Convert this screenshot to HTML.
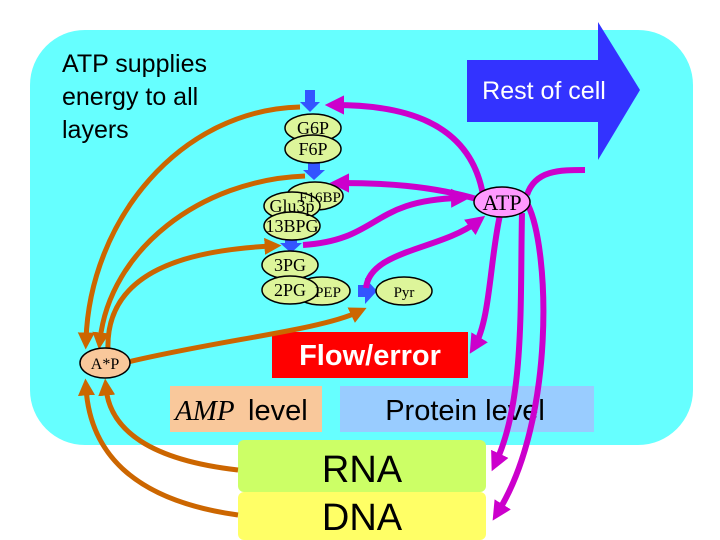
<!DOCTYPE html>
<html><head><meta charset="utf-8"><style>
html,body{margin:0;padding:0;background:#fff;width:720px;height:540px;overflow:hidden}
svg{display:block}
text{font-family:"Liberation Serif",serif}
.s{font-family:"Liberation Sans",sans-serif}
</style></head><body>
<svg width="720" height="540" viewBox="0 0 720 540" xmlns="http://www.w3.org/2000/svg">
<defs>
<marker id="mo" markerWidth="3.4" markerHeight="3.4" refX="1.5" refY="1.7" orient="auto" markerUnits="strokeWidth"><path d="M0,0 L3.4,1.7 L0,3.4 z" fill="#cc6600"/></marker>
<marker id="mm" markerWidth="3.2" markerHeight="3.2" refX="1.5" refY="1.6" orient="auto" markerUnits="strokeWidth"><path d="M0,0 L3.2,1.6 L0,3.2 z" fill="#cc00cc"/></marker>
</defs>
<rect x="30" y="30" width="663" height="415" rx="55" fill="#66ffff"/>
<path d="M467,60 H598 V22 L640,90 L598,160 V122 H467 Z" fill="#3333ff"/>
<text x="544" y="99" class="s" font-size="25" fill="#fff" text-anchor="middle">Rest of cell</text>
<text class="s" font-size="25" fill="#000"><tspan x="62" y="72">ATP supplies</tspan><tspan x="62" y="105">energy to all</tspan><tspan x="62" y="138">layers</tspan></text>
<rect x="272" y="332" width="196" height="46" fill="#ff0000"/>
<text x="370" y="365" class="s" font-size="29" font-weight="bold" fill="#fff" text-anchor="middle">Flow/error</text>
<rect x="170" y="386" width="152" height="46" fill="#f9c89b"/>
<text x="175" y="420" font-size="29" font-style="italic">AMP</text><text x="248" y="420" class="s" font-size="29">level</text>
<rect x="340" y="386" width="254" height="46" fill="#99ccff"/>
<text x="465" y="420" class="s" font-size="29" text-anchor="middle">Protein level</text>
<rect x="238" y="440" width="248" height="52" rx="6" fill="#ccff66"/>
<rect x="238" y="492" width="248" height="48" rx="6" fill="#ffff66"/>
<text x="362" y="482" class="s" font-size="38" text-anchor="middle">RNA</text>
<text x="362" y="530" class="s" font-size="38" text-anchor="middle">DNA</text>
<g fill="#3355ff">
<path d="M305,90 h10 v12 h5 l-10,10 l-10,-10 h5z"/>
<path d="M308,163 h12 v7 h5 l-11,10 l-11,-10 h5z"/>
<path d="M285,240 h12 v3 h5 l-11,10 l-11,-10 h5z"/>
<path d="M358,285 h7 v-7 l12,13 l-12,13 v-7 h-7z"/>
</g>
<g fill="none" stroke="#cc6600" stroke-width="5">
<path d="M300,107 C180,110 90,220 86,340" marker-end="url(#mo)"/>
<path d="M305,176 C200,180 110,250 100,340" marker-end="url(#mo)"/>
<path d="M108,350 C105,270 190,250 272,246" marker-end="url(#mo)"/>
<path d="M128,362 C220,340 320,330 358,312" marker-end="url(#mo)"/>
<path d="M238,470 C150,460 110,430 106,388" marker-end="url(#mo)"/>
<path d="M238,515 C130,500 90,450 86,388" marker-end="url(#mo)"/>
</g>
<g fill="none" stroke="#cc00cc" stroke-width="6">
<path d="M483,195 C470,120 400,105 335,105" marker-end="url(#mm)"/>
<path d="M480,200 C430,185 380,183 340,183" marker-end="url(#mm)"/>
<path d="M303,245 C380,240 370,200 460,198" marker-end="url(#mm)"/>
<path d="M366,288 C370,250 440,250 477,222" marker-end="url(#mm)"/>
<path d="M500,215 C490,260 490,320 475,345" marker-end="url(#mm)"/>
<path d="M522,213 C520,300 525,400 496,462" marker-end="url(#mm)"/>
<path d="M527,195 C535,170 560,170 585,170"/>
<path d="M528,205 C550,250 555,420 498,512" marker-end="url(#mm)"/>
</g>
<g stroke="#000" stroke-width="1.5" fill="#ddf59a">
<ellipse cx="315" cy="196" rx="28" ry="14"/>
<ellipse cx="313" cy="128" rx="28" ry="14"/>
<ellipse cx="313" cy="149" rx="28" ry="14"/>
<ellipse cx="292" cy="206" rx="28" ry="14"/>
<ellipse cx="292" cy="226" rx="28" ry="14"/>
<ellipse cx="322" cy="291" rx="28" ry="14"/>
<ellipse cx="290" cy="265" rx="28" ry="14"/>
<ellipse cx="290" cy="290" rx="28" ry="14"/>
<ellipse cx="404" cy="291" rx="28" ry="14"/>
</g>
<g font-size="18" text-anchor="middle">
<text x="313" y="134">G6P</text><text x="313" y="155">F6P</text>
<text x="320" y="202" font-size="15">F16BP</text>
<text x="292" y="212">Glu3p</text><text x="292" y="232">13BPG</text>
<text x="328" y="297" font-size="15">PEP</text>
<text x="290" y="271">3PG</text><text x="290" y="296">2PG</text>
<text x="404" y="297" font-size="15">Pyr</text>
</g>
<ellipse cx="502" cy="202" rx="28" ry="15" fill="#ff99ff" stroke="#000" stroke-width="1.5"/>
<text x="502" y="210" font-size="22" text-anchor="middle">ATP</text>
<ellipse cx="105" cy="363" rx="25" ry="15" fill="#f9c89b" stroke="#000" stroke-width="1.5"/>
<text x="105" y="369" font-size="16" text-anchor="middle">A*P</text>
</svg>
</body></html>
